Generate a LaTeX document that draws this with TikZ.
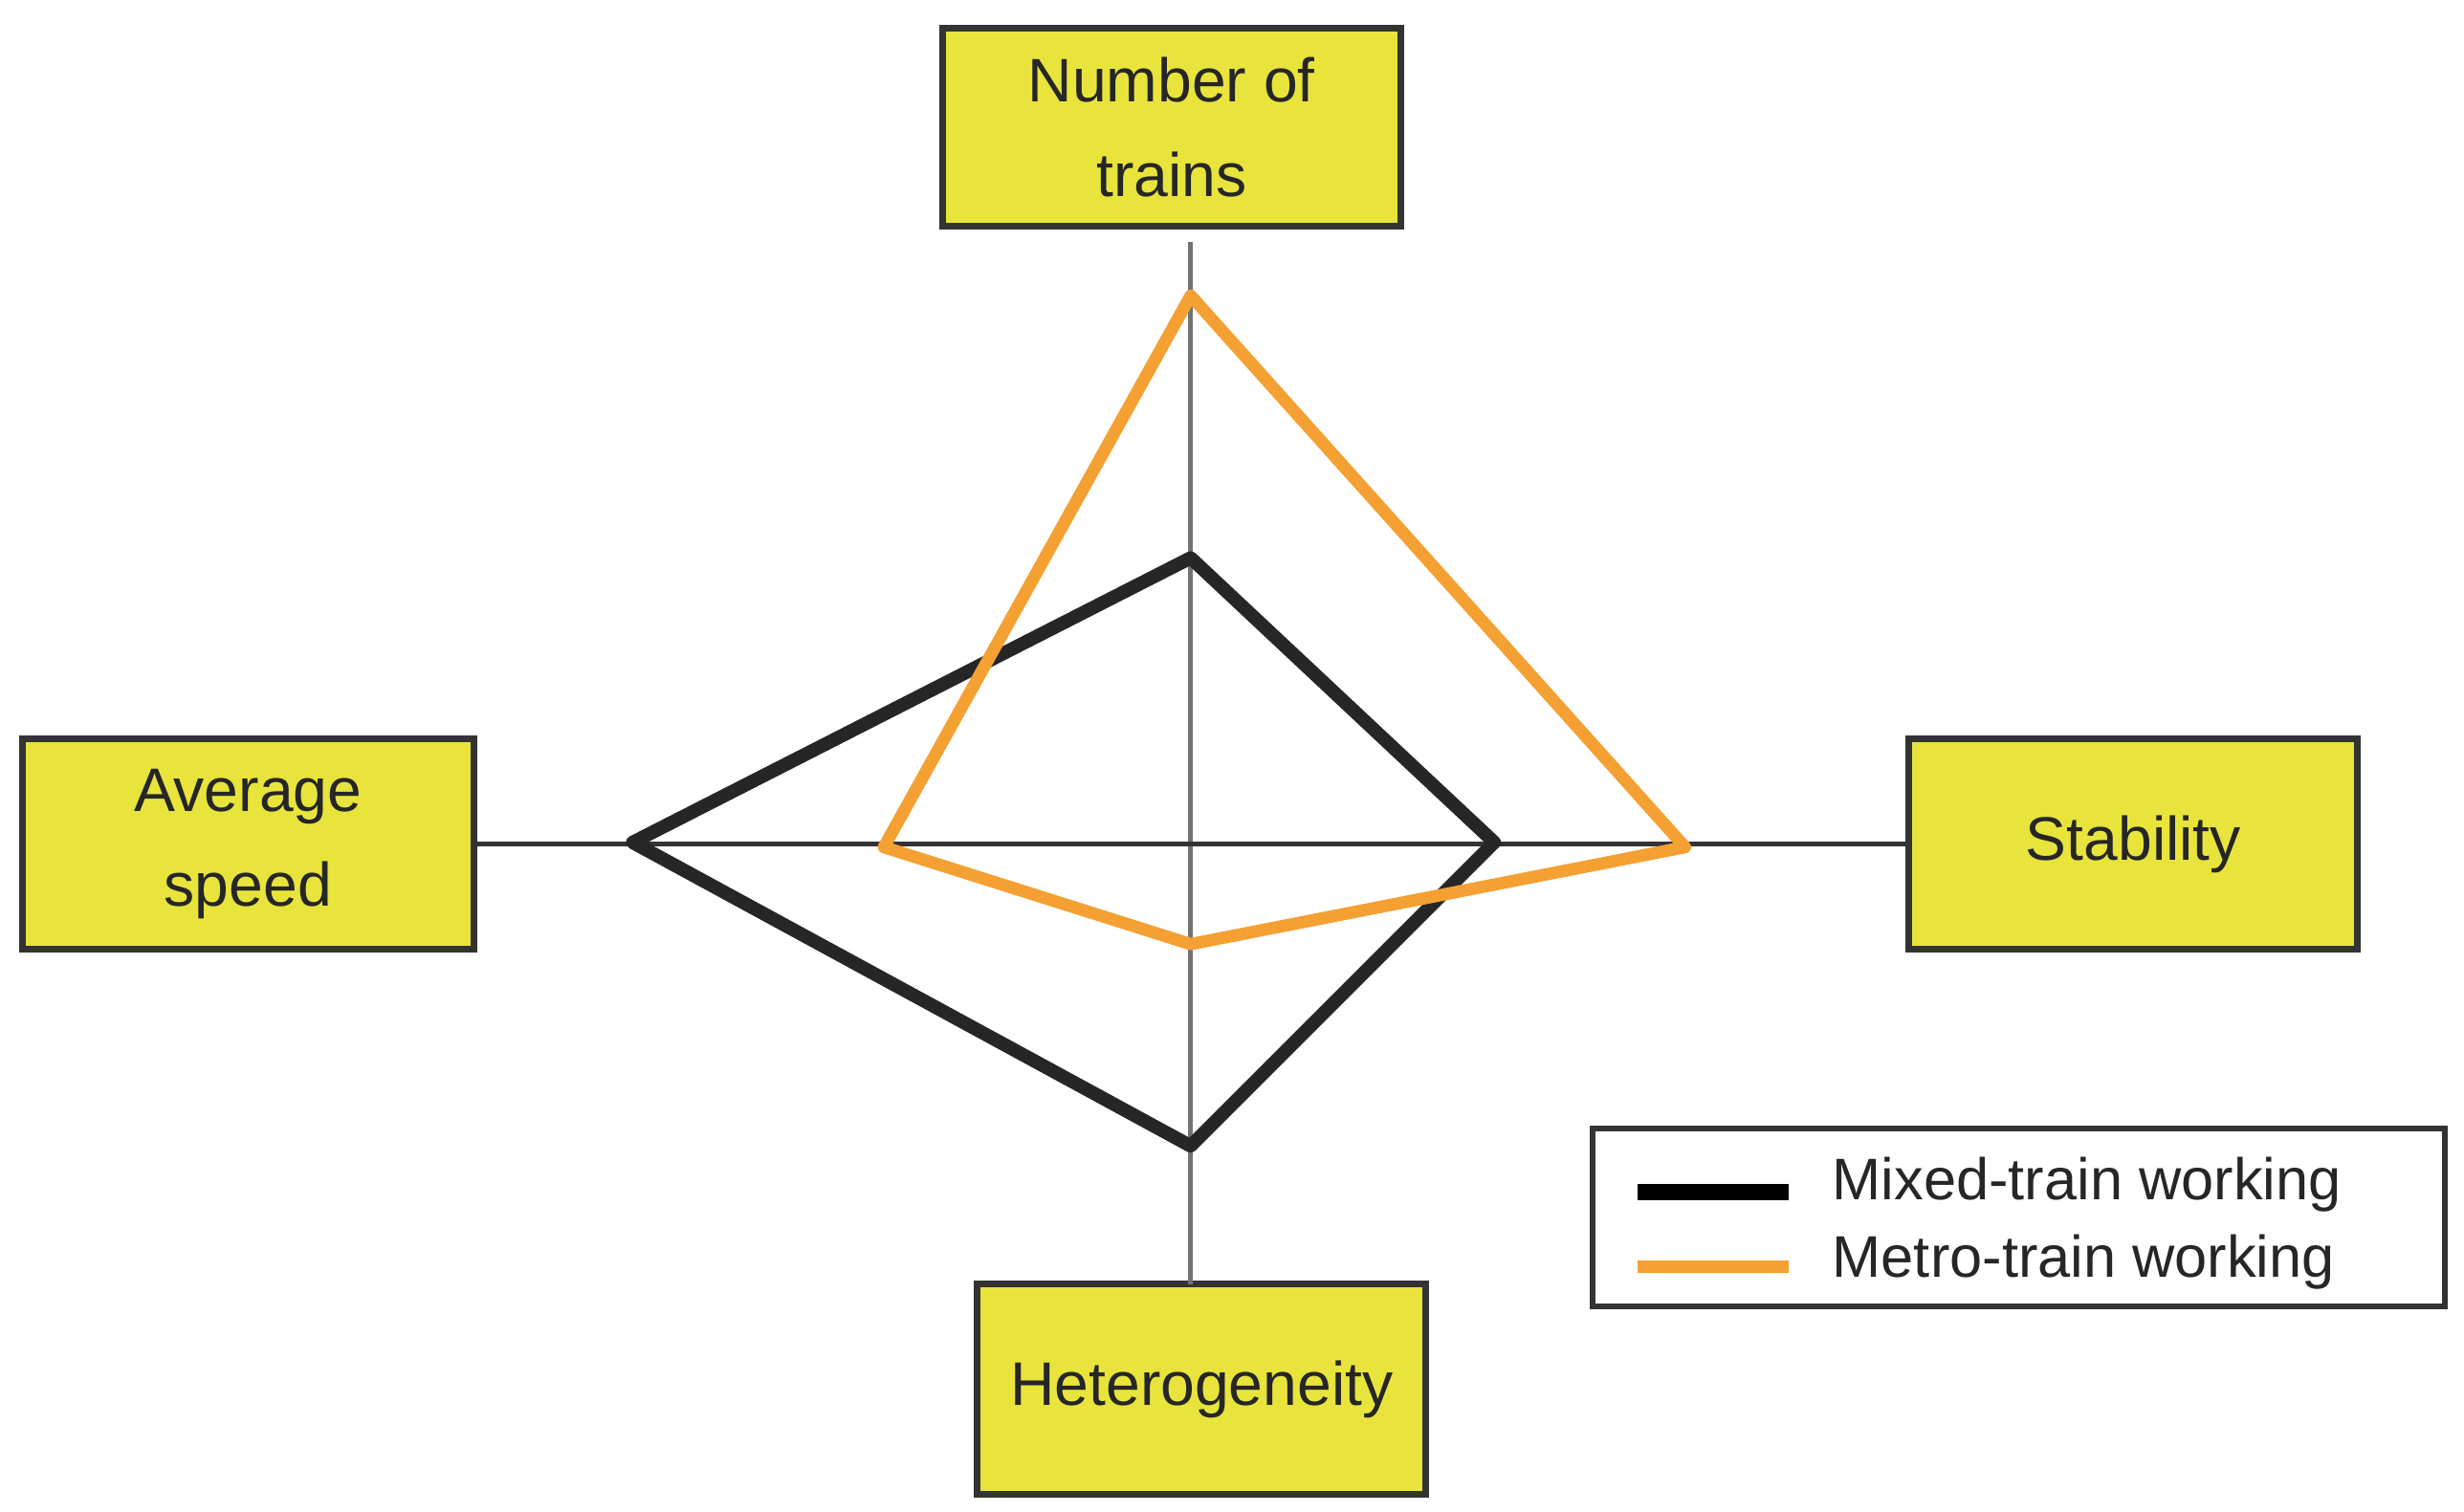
\documentclass[tikz,border=0pt]{standalone}
\usepackage{fontspec}
\setmainfont{Liberation Sans}
\begin{document}
\begin{tikzpicture}[x=0.01cm,y=-0.01cm,
  lab/.style={draw=black!80,fill=yellow!85!olive!60,line width=1.2pt,inner sep=0pt,font=\fontsize{11pt}{17pt}\selectfont,align=center,text=black!85},
  axis/.style={draw=black!55,line width=0.8pt}]
\useasboundingbox (0,0) rectangle (1550,951);
\definecolor{boxy}{RGB}{232,228,60}
\definecolor{orng}{RGB}{245,160,50}
\tikzset{lab/.append style={fill=boxy}}
\node[lab,minimum width=2.88cm,minimum height=1.25cm] (top) at (737,80) {Number of\\trains};
\node[lab,minimum width=2.84cm,minimum height=1.32cm] (left) at (156,531) {Average\\speed};
\node[lab,minimum width=2.82cm,minimum height=1.32cm] (right) at (1342,531) {Stability};
\node[lab,minimum width=2.82cm,minimum height=1.32cm] (bot) at (756,874) {Heterogeneity};
\coordinate (vt) at (749,152); \coordinate (vb) at (749,808);
\draw[axis] (vt) -- (vb);
\draw[axis,draw=black!80] (left.east) -- (right.west);
\coordinate (b1) at (749,351); \coordinate (b2) at (940,530);
\coordinate (b3) at (749,721); \coordinate (b4) at (398,530);
\draw[line width=2.4pt,black!85,line join=round] (b1)--(b2)--(b3)--(b4)--cycle;
\coordinate (o1) at (749,186); \coordinate (o2) at (1060,533);
\coordinate (o3) at (749,594); \coordinate (o4) at (556,533);
\draw[line width=2.2pt,orng,line join=round] (o1)--(o2)--(o3)--(o4)--cycle;
\node[draw=black!80,line width=1pt,minimum width=5.36cm,minimum height=1.12cm] (leg) at (1270,766) {};
\coordinate (l1a) at (1030,750); \coordinate (l1b) at (1125,750);
\coordinate (l2a) at (1030,797); \coordinate (l2b) at (1125,797);
\draw[line width=3pt,black] (l1a)--(l1b);
\draw[line width=2.2pt,orng] (l2a)--(l2b);
\node[anchor=west,font=\fontsize{10.5pt}{12pt}\selectfont,text=black!85,inner sep=0pt] (t1) at (1152,745) {Mixed-train working};
\node[anchor=west,font=\fontsize{10.5pt}{12pt}\selectfont,text=black!85,inner sep=0pt] (t2) at (1152,794) {Metro-train working};
\end{tikzpicture}
\end{document}
